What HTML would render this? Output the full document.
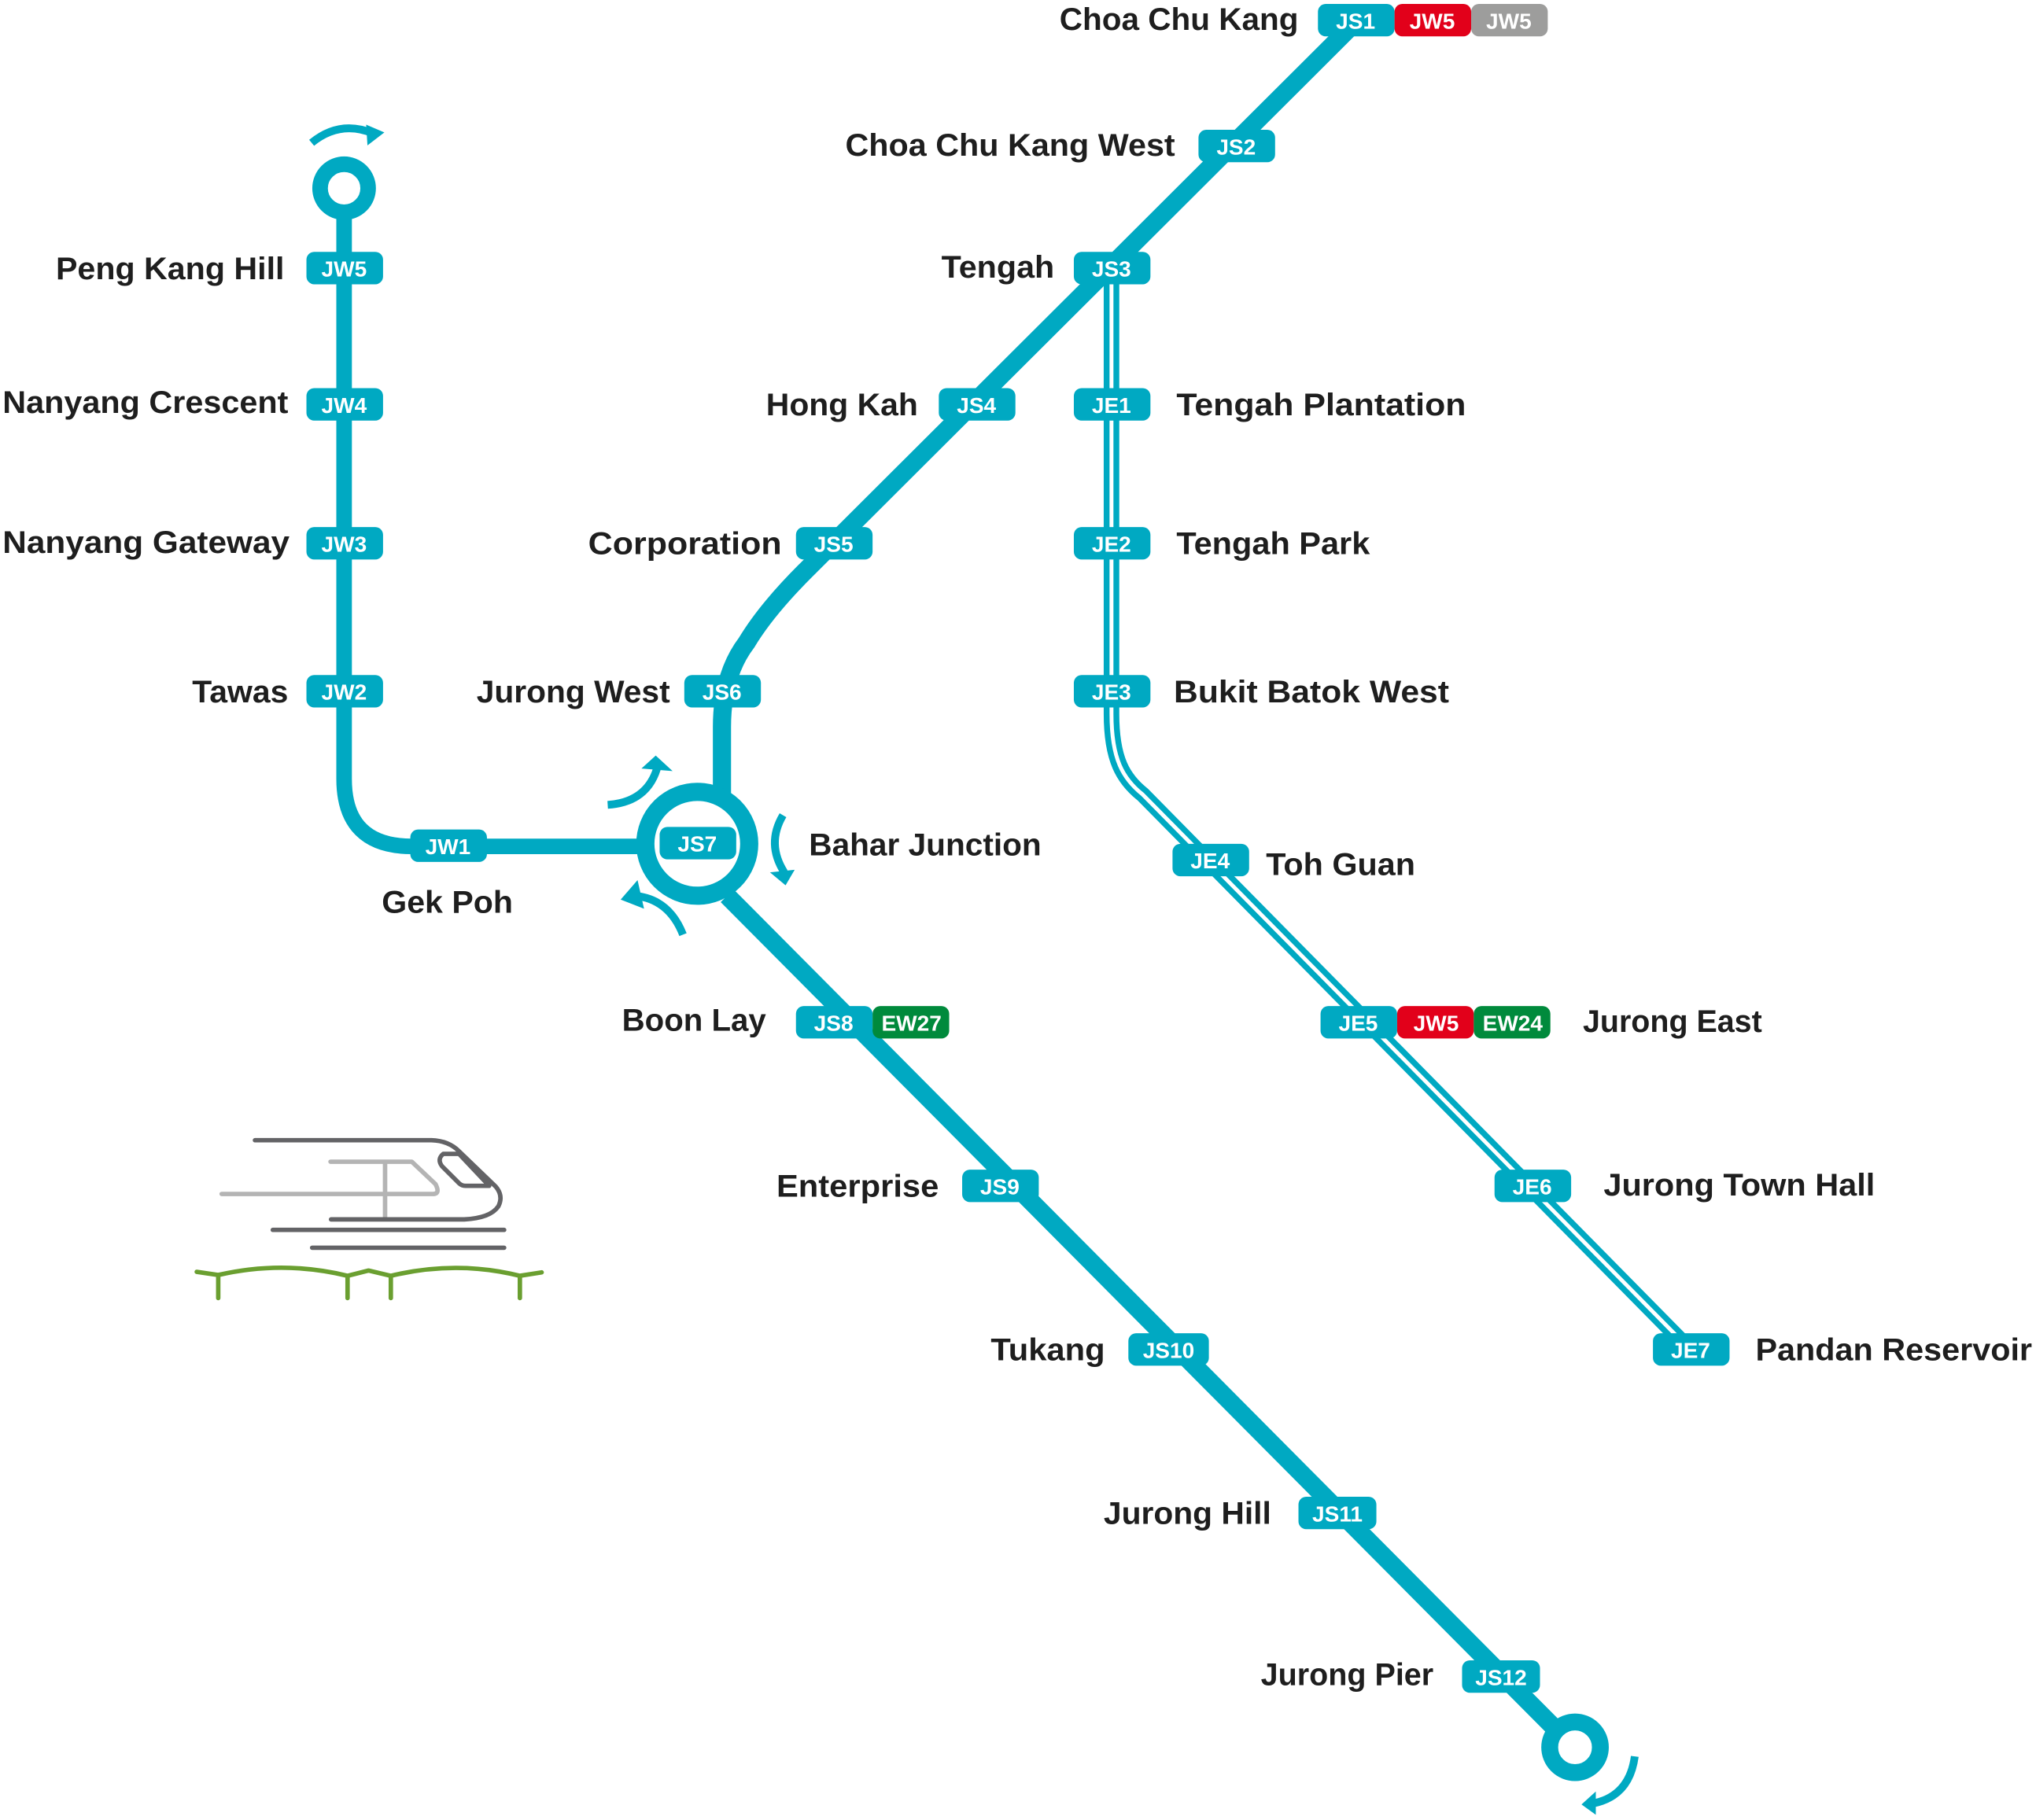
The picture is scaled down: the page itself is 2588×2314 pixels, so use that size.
<!DOCTYPE html>
<html><head><meta charset="utf-8"><style>
html,body{margin:0;padding:0;background:#fff;}
svg{display:block;}
.l{font-family:"Liberation Sans",sans-serif;font-weight:bold;font-size:24px;fill:#1e1e1e;}
.b{font-family:"Liberation Sans",sans-serif;font-weight:bold;font-size:17px;fill:#fff;text-anchor:middle;}
.r{text-anchor:end;}
</style></head><body>
<svg width="2588" height="2314" viewBox="0 0 1568 1402" xmlns="http://www.w3.org/2000/svg">
<g fill="none" stroke="#00a9c2" stroke-linejoin="round">
<path d="M856,210 V550 C856,585 865,600 880,612 L1302,1040" stroke-width="12"/>
<path d="M856,210 V550 C856,585 865,600 880,612 L1302,1040" stroke="#fff" stroke-width="3"/>
<path d="M1046,15 L620,440 Q590,470 575,495 Q556,520 556,560 V612" stroke-width="14"/>
<path d="M560,690 L1200,1334" stroke-width="14"/>
<circle cx="537" cy="650" r="40" stroke-width="14"/>
<circle cx="1213" cy="1346" r="19.5" stroke-width="13"/>
<path d="M265,162 V600 Q265,652 317,652 H497" stroke-width="12"/>
<circle cx="265" cy="145" r="18.5" stroke-width="12"/>
<path d="M468,620 Q498,618 506,592" stroke-width="6"/>
<path d="M603,628 Q590,650 604,672" stroke-width="6"/>
<path d="M526,720 Q515,692 488,690" stroke-width="6"/>
<path d="M240,110 Q262,92 288,103" stroke-width="6"/>
<path d="M1259,1353 Q1255,1383 1228,1389" stroke-width="6"/>
</g>
<g fill="#00a9c2">
<polygon points="494,592 505,582 518,594"/>
<polygon points="593,672 612,670 605,682"/>
<polygon points="491,678 478,693 496,700"/>
<polygon points="282,96 296,102 283,112"/>
<polygon points="1229,1380 1218,1390 1229,1398"/>
</g>
<g>
<rect x="1015" y="3" width="59" height="25" rx="6" fill="#00a9c2"/><text class="b" x="1044" y="22">JS1</text>
<rect x="1074" y="3" width="59" height="25" rx="6" fill="#e2001a"/><text class="b" x="1103" y="22">JW5</text>
<rect x="1133" y="3" width="59" height="25" rx="6" fill="#9d9d9c"/><text class="b" x="1162" y="22">JW5</text>
<rect x="923" y="100" width="59" height="25" rx="6" fill="#00a9c2"/><text class="b" x="952" y="119">JS2</text>
<rect x="827" y="194" width="59" height="25" rx="6" fill="#00a9c2"/><text class="b" x="856" y="213">JS3</text>
<rect x="723" y="299" width="59" height="25" rx="6" fill="#00a9c2"/><text class="b" x="752" y="318">JS4</text>
<rect x="613" y="406" width="59" height="25" rx="6" fill="#00a9c2"/><text class="b" x="642" y="425">JS5</text>
<rect x="527" y="520" width="59" height="25" rx="6" fill="#00a9c2"/><text class="b" x="556" y="539">JS6</text>
<rect x="508" y="637" width="59" height="25" rx="6" fill="#00a9c2"/><text class="b" x="537" y="656">JS7</text>
<rect x="613" y="775" width="59" height="25" rx="6" fill="#00a9c2"/><text class="b" x="642" y="794">JS8</text>
<rect x="672" y="775" width="59" height="25" rx="6" fill="#008a3c"/><text class="b" x="702" y="794">EW27</text>
<rect x="741" y="901" width="59" height="25" rx="6" fill="#00a9c2"/><text class="b" x="770" y="920">JS9</text>
<rect x="869" y="1027" width="62" height="25" rx="6" fill="#00a9c2"/><text class="b" x="900" y="1046">JS10</text>
<rect x="1000" y="1153" width="60" height="25" rx="6" fill="#00a9c2"/><text class="b" x="1030" y="1172">JS11</text>
<rect x="1126" y="1279" width="60" height="25" rx="6" fill="#00a9c2"/><text class="b" x="1156" y="1298">JS12</text>
<rect x="236" y="194" width="59" height="25" rx="6" fill="#00a9c2"/><text class="b" x="265" y="213">JW5</text>
<rect x="236" y="299" width="59" height="25" rx="6" fill="#00a9c2"/><text class="b" x="265" y="318">JW4</text>
<rect x="236" y="406" width="59" height="25" rx="6" fill="#00a9c2"/><text class="b" x="265" y="425">JW3</text>
<rect x="236" y="520" width="59" height="25" rx="6" fill="#00a9c2"/><text class="b" x="265" y="539">JW2</text>
<rect x="316" y="639" width="59" height="25" rx="6" fill="#00a9c2"/><text class="b" x="345" y="658">JW1</text>
<rect x="827" y="299" width="59" height="25" rx="6" fill="#00a9c2"/><text class="b" x="856" y="318">JE1</text>
<rect x="827" y="406" width="59" height="25" rx="6" fill="#00a9c2"/><text class="b" x="856" y="425">JE2</text>
<rect x="827" y="520" width="59" height="25" rx="6" fill="#00a9c2"/><text class="b" x="856" y="539">JE3</text>
<rect x="903" y="650" width="59" height="25" rx="6" fill="#00a9c2"/><text class="b" x="932" y="669">JE4</text>
<rect x="1017" y="775" width="59" height="25" rx="6" fill="#00a9c2"/><text class="b" x="1046" y="794">JE5</text>
<rect x="1076" y="775" width="59" height="25" rx="6" fill="#e2001a"/><text class="b" x="1106" y="794">JW5</text>
<rect x="1135" y="775" width="59" height="25" rx="6" fill="#008a3c"/><text class="b" x="1165" y="794">EW24</text>
<rect x="1151" y="901" width="59" height="25" rx="6" fill="#00a9c2"/><text class="b" x="1180" y="920">JE6</text>
<rect x="1273" y="1027" width="59" height="25" rx="6" fill="#00a9c2"/><text class="b" x="1302" y="1046">JE7</text>
</g>
<g class="l">
<text class="l" x="816" y="23" textLength="184" lengthAdjust="spacingAndGlyphs">Choa Chu Kang</text>
<text class="l" x="651" y="120" textLength="254" lengthAdjust="spacingAndGlyphs">Choa Chu Kang West</text>
<text class="l" x="725" y="214" textLength="87" lengthAdjust="spacingAndGlyphs">Tengah</text>
<text class="l" x="590" y="320" textLength="117" lengthAdjust="spacingAndGlyphs">Hong Kah</text>
<text class="l" x="453" y="427" textLength="149" lengthAdjust="spacingAndGlyphs">Corporation</text>
<text class="l" x="367" y="541" textLength="149" lengthAdjust="spacingAndGlyphs">Jurong West</text>
<text class="l" x="43" y="215" textLength="176" lengthAdjust="spacingAndGlyphs">Peng Kang Hill</text>
<text class="l" x="2" y="318" textLength="220" lengthAdjust="spacingAndGlyphs">Nanyang Crescent</text>
<text class="l" x="2" y="426" textLength="221" lengthAdjust="spacingAndGlyphs">Nanyang Gateway</text>
<text class="l" x="148" y="541" textLength="74" lengthAdjust="spacingAndGlyphs">Tawas</text>
<text class="l" x="294" y="703" textLength="101" lengthAdjust="spacingAndGlyphs">Gek Poh</text>
<text class="l" x="623" y="659" textLength="179" lengthAdjust="spacingAndGlyphs">Bahar Junction</text>
<text class="l" x="479" y="794" textLength="111" lengthAdjust="spacingAndGlyphs">Boon Lay</text>
<text class="l" x="598" y="922" textLength="125" lengthAdjust="spacingAndGlyphs">Enterprise</text>
<text class="l" x="763" y="1048" textLength="88" lengthAdjust="spacingAndGlyphs">Tukang</text>
<text class="l" x="850" y="1174" textLength="129" lengthAdjust="spacingAndGlyphs">Jurong Hill</text>
<text class="l" x="971" y="1298" textLength="133" lengthAdjust="spacingAndGlyphs">Jurong Pier</text>
<text class="l" x="906" y="320" textLength="223" lengthAdjust="spacingAndGlyphs">Tengah Plantation</text>
<text class="l" x="906" y="427" textLength="149" lengthAdjust="spacingAndGlyphs">Tengah Park</text>
<text class="l" x="904" y="541" textLength="212" lengthAdjust="spacingAndGlyphs">Bukit Batok West</text>
<text class="l" x="975" y="674" textLength="115" lengthAdjust="spacingAndGlyphs">Toh Guan</text>
<text class="l" x="1219" y="795" textLength="138" lengthAdjust="spacingAndGlyphs">Jurong East</text>
<text class="l" x="1235" y="921" textLength="209" lengthAdjust="spacingAndGlyphs">Jurong Town Hall</text>
<text class="l" x="1352" y="1048" textLength="213" lengthAdjust="spacingAndGlyphs">Pandan Reservoir</text>
</g>
<g transform="scale(0.60603) translate(250,1420) scale(0.33333)" fill="none" stroke-linecap="round" stroke-linejoin="round" stroke-width="17">
<path d="M510,170 H820 L910,255 Q930,293 900,293 H95 M718,170 V380" stroke="#b4b4b4"/>
<path d="M222,88 H895 Q960,90 1000,130 L1140,265 Q1170,300 1150,340 Q1120,385 1020,390 H512" stroke="#636366"/>
<path d="M940,140 H1000 L1115,262 H1025 Q1010,262 1000,252 L935,187 Q915,160 940,140 Z" stroke="#636366"/>
<path d="M290,430 H1172 M440,498 H1172" stroke="#636366"/>
<path d="M0,590 L82,602 Q330,545 575,605 L655,585 L740,605 Q990,545 1232,605 L1315,592 M82,602 V690 M575,605 V690 M740,605 V690 M1232,605 V690" stroke="#6a9f30"/>
</g>
</svg>
</body></html>
